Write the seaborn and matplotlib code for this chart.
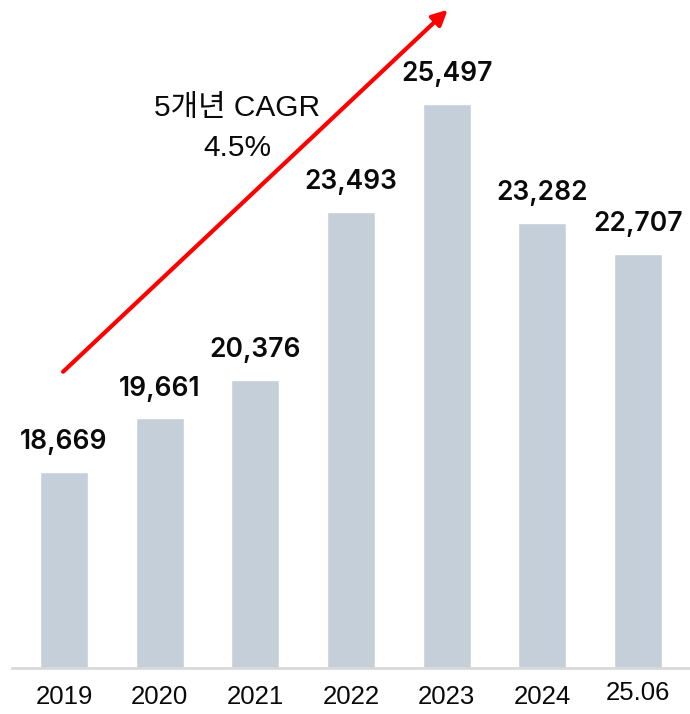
import matplotlib
matplotlib.use("Agg")
import matplotlib.pyplot as plt
import matplotlib.transforms as mtransforms
import seaborn as sns
import pandas as pd

# 연도별 값
years = ["2019", "2020", "2021", "2022", "2023", "2024", "25.06"]
values = [18669, 19661, 20376, 23493, 25497, 23282, 22707]
cagr_text = "5개년 CAGR\n4.5%"

sns.set_style("white")
plt.rcParams["font.family"] = ["Liberation Sans", "Noto Sans CJK KR", "DejaVu Sans"]

df = pd.DataFrame({"year": years, "value": values})

fig = plt.figure(figsize=(6.9, 7.14), dpi=100)
ax = fig.add_axes([12 / 690, 46 / 714, 678 / 690, 668 / 714])
sns.barplot(data=df, x="year", y="value", color="#C5CFD9", width=0.5,
            saturation=1, ax=ax)

ax.set_ylim(15030, 27420)
ax.set_xlim(-0.544, 6.543)

for i, v in enumerate(values):
    ax.text(i, v + 310, f"{v:,}", ha="center", va="bottom",
            fontsize=19, fontweight="semibold", color="#0a0a0a",
            family=["Inter", "DejaVu Sans"])

# CAGR arrow
ax.annotate("", xy=(4.01, 27240), xytext=(-0.01, 20525),
            arrowprops=dict(arrowstyle="-|>,head_length=0.9,head_width=0.45",
                            color="#FF0000", lw=3, shrinkA=0, shrinkB=0))
ax.text(1.81, 25050, cagr_text, ha="center", va="center", fontsize=21.5,
        linespacing=1.55, color="#0a0a0a")

sns.despine(ax=ax, left=True)
ax.spines["bottom"].set_color("#D9D9D9")
ax.spines["bottom"].set_linewidth(2)
ax.set_yticks([])
ax.set_xlabel("")
ax.set_ylabel("")
ax.tick_params(axis="x", length=0, labelsize=18.5, pad=12.5, colors="#0a0a0a")

last = ax.get_xticklabels()[-1]
last.set_transform(last.get_transform() +
                   mtransforms.ScaledTranslation(0, 4 / 100, fig.dpi_scale_trans))

fig.savefig("out.png", dpi=100)
